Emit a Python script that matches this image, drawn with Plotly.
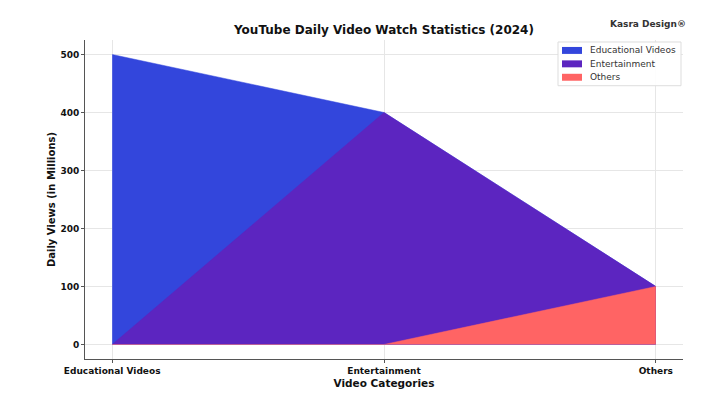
import plotly.graph_objects as go

categories = ["Educational Videos", "Entertainment", "Others"]
series_names = ["Educational Videos", "Entertainment", "Others"]
educational = [500, 400, 100]
entertainment = [0, 400, 100]
others = [0, 0, 100]
y_ticks = [0, 100, 200, 300, 400, 500]

colors = ["#3346DC", "#5C25C0", "#FF6464"]
series = [educational, entertainment, others]

fig = go.Figure()
for name, vals, col in zip(series_names, series, colors):
    fig.add_trace(go.Scatter(
        x=categories, y=vals, name=name, mode="lines",
        line=dict(color=col, width=0.5), fill="tozeroy", fillcolor=col,
        showlegend=False,
    ))

# plot area in pixels
L, R, T, B = 85, 683, 40, 361
W, H = R - L, B - T


def px(x):
    return (x - L) / W


def py(y):
    return (B - y) / H


font_family = "DejaVu Sans"
fig.update_layout(
    width=720, height=399,
    margin=dict(l=L, r=720 - R, t=T, b=399 - B),
    paper_bgcolor="white", plot_bgcolor="white",
    font=dict(family=font_family, color="#222222"),
    title=dict(text="<b>YouTube Daily Video Watch Statistics (2024)</b>",
               x=(L + R) / 2 / 720, xanchor="center", y=1 - 30 / 399, yanchor="middle",
               font=dict(size=12, color="#111111")),
    showlegend=False,
    xaxis=dict(
        type="category", range=[-0.1, 2.1],
        showgrid=True, gridcolor="#E6E6E6", gridwidth=1,
        showline=True, linecolor="#555555", linewidth=1,
        ticks="outside", ticklen=3, tickcolor="#555555",
        tickfont=dict(size=9, family=font_family, color="#111111", weight="bold"),
        title=dict(text="<b>Video Categories</b>", font=dict(size=10.5, color="#111111"), standoff=4),
        zeroline=False,
    ),
    yaxis=dict(
        range=[-25, 525], tickvals=y_ticks,
        showgrid=True, gridcolor="#E6E6E6", gridwidth=1,
        showline=True, linecolor="#555555", linewidth=1,
        ticks="outside", ticklen=3, tickcolor="#555555",
        tickfont=dict(size=9, family=font_family, color="#111111", weight="bold"),
        title=dict(text="<b>Daily Views (in Millions)</b>", font=dict(size=10, color="#111111"), standoff=2),
        zeroline=False,
    ),
)

# Legend (custom, compact like the reference)
box_x0, box_x1, box_y0, box_y1 = 558, 681, 42, 86
fig.add_shape(type="rect", xref="paper", yref="paper",
              x0=px(box_x0), x1=px(box_x1), y0=py(box_y1), y1=py(box_y0),
              line=dict(color="#DDDDDD", width=1), fillcolor="rgba(255,255,255,0.9)", layer="above")
row_y = [50.5, 64, 77.5]
for name, col, ry in zip(series_names, colors, row_y):
    fig.add_shape(type="rect", xref="paper", yref="paper",
                  x0=px(562), x1=px(582), y0=py(ry + 3.5), y1=py(ry - 3.5),
                  line=dict(width=0), fillcolor=col, layer="above")
    fig.add_annotation(text=name, xref="paper", yref="paper",
                       x=px(588), xanchor="left", y=py(ry), yanchor="middle",
                       showarrow=False, font=dict(size=9, color="#333333"))

fig.add_annotation(text="<b>Kasra Design®</b>", xref="paper", yref="paper",
                   x=px(688), xanchor="right", y=py(24), yanchor="middle",
                   showarrow=False, font=dict(size=9, color="#333333"))

fig.write_html("out.html")
